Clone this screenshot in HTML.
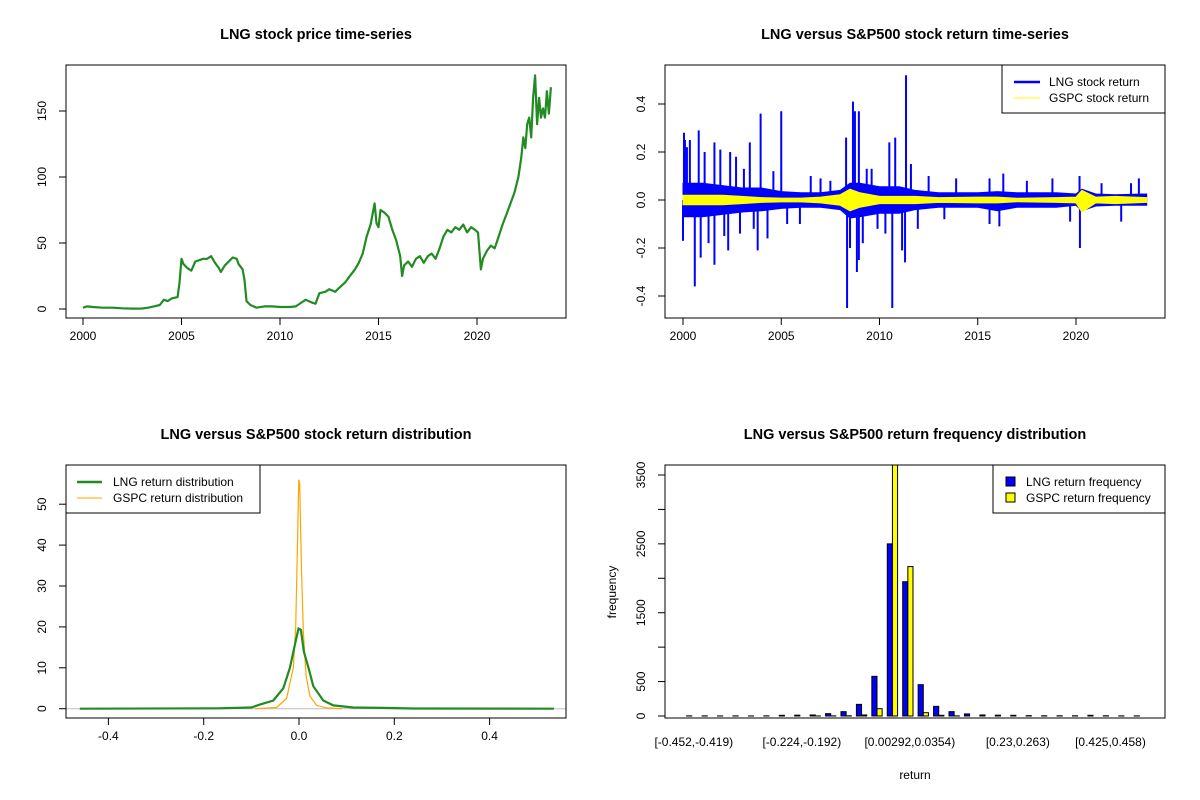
<!DOCTYPE html>
<html><head><meta charset="utf-8">
<style>
html,body{margin:0;padding:0;background:#fff;}
svg{display:block;font-family:"Liberation Sans",Arial,sans-serif;}
</style></head>
<body>
<svg id="chart" width="1200" height="800" viewBox="0 0 1200 800" xmlns="http://www.w3.org/2000/svg">
<rect x="0" y="0" width="1200" height="800" fill="#fff"/>
</svg>
<script>
// ---------- Panel 1: LNG price ----------
const priceYears = [2000.0,2000.2,2000.5,2001.0,2001.5,2002.0,2002.5,2003.0,2003.3,2003.6,2003.9,2004.1,2004.3,2004.5,2004.8,2004.9,2005.0,2005.1,2005.3,2005.5,2005.7,2005.9,2006.1,2006.3,2006.5,2006.7,2006.9,2007.0,2007.2,2007.4,2007.6,2007.8,2007.9,2008.1,2008.2,2008.3,2008.5,2008.8,2009.2,2009.6,2010.0,2010.5,2010.8,2011.1,2011.3,2011.6,2011.8,2012.0,2012.3,2012.5,2012.8,2013.0,2013.3,2013.5,2013.8,2014.0,2014.2,2014.4,2014.6,2014.7,2014.8,2014.9,2015.0,2015.1,2015.3,2015.5,2015.7,2015.9,2016.1,2016.2,2016.3,2016.5,2016.7,2016.9,2017.1,2017.3,2017.5,2017.7,2017.9,2018.1,2018.3,2018.5,2018.7,2018.9,2019.1,2019.3,2019.5,2019.7,2019.9,2020.05,2020.2,2020.3,2020.5,2020.7,2020.9,2021.1,2021.3,2021.5,2021.7,2021.9,2022.1,2022.25,2022.35,2022.45,2022.55,2022.65,2022.75,2022.85,2022.95,2023.05,2023.15,2023.25,2023.35,2023.45,2023.55,2023.65,2023.75];
const priceVals = [1,2,1.5,1,1,0.5,0.3,0.4,1,2,3,7,6,8,9,20,38,34,31,29,36,37,38,38,40,35,31,28,33,36,39,38,34,30,22,6,3,1,2,2,1.5,1.5,2,5,7,5,4,12,13,15,13,16,20,24,30,35,42,55,64,72,80,65,62,75,73,70,60,52,40,25,33,36,32,38,40,35,40,42,38,46,55,60,58,62,60,64,58,62,60,58,30,38,44,48,46,55,64,72,80,88,100,115,130,122,140,145,130,160,177,140,160,145,152,145,165,148,168];

// ---------- Panel 2: returns ----------
const bandYears = [2000.0,2001.0,2002.0,2003.0,2004.0,2005.0,2006.0,2007.0,2008.0,2008.5,2009.0,2010.0,2011.0,2011.8,2013.0,2015.0,2016.0,2017.0,2019.0,2020.0,2020.3,2021.0,2022.0,2023.6];
const lngHi = [0.07,0.07,0.06,0.05,0.05,0.035,0.03,0.03,0.04,0.07,0.07,0.055,0.055,0.04,0.03,0.03,0.035,0.03,0.03,0.025,0.045,0.025,0.022,0.025];
const lngLo = [-0.07,-0.07,-0.06,-0.05,-0.045,-0.035,-0.03,-0.03,-0.04,-0.075,-0.07,-0.055,-0.055,-0.04,-0.03,-0.03,-0.045,-0.03,-0.03,-0.022,-0.045,-0.025,-0.022,-0.022];
const gspcHi = [0.02,0.02,0.02,0.015,0.01,0.008,0.008,0.012,0.022,0.045,0.03,0.015,0.015,0.015,0.01,0.012,0.012,0.007,0.01,0.012,0.04,0.012,0.015,0.01];
const gspcLo = [-0.02,-0.02,-0.02,-0.015,-0.01,-0.008,-0.008,-0.012,-0.022,-0.045,-0.03,-0.015,-0.015,-0.015,-0.01,-0.012,-0.012,-0.007,-0.01,-0.012,-0.05,-0.012,-0.015,-0.01];
const spikeYears = [2000.05,2000.1,2000.0,2000.2,2000.35,2000.6,2000.8,2000.9,2001.1,2001.3,2001.6,2001.6,2001.9,2002.1,2002.3,2002.4,2002.7,2002.9,2003.1,2003.4,2003.6,2003.8,2003.95,2004.3,2004.6,2005.0,2005.3,2005.95,2006.5,2007.0,2007.5,2008.3,2008.35,2008.5,2008.65,2008.75,2008.85,2008.95,2008.95,2009.15,2009.35,2009.6,2009.9,2010.3,2010.5,2010.65,2010.8,2011.15,2011.3,2011.35,2011.6,2011.95,2012.5,2013.3,2013.9,2015.6,2015.6,2016.1,2016.3,2017.5,2018.8,2019.7,2020.18,2020.2,2021.3,2022.3,2022.8,2023.2];
const spikeVals = [0.28,0.25,-0.17,0.22,0.25,-0.36,0.29,-0.24,0.2,-0.18,0.24,-0.27,0.21,-0.15,-0.21,0.20,0.18,-0.14,0.13,0.24,-0.12,-0.21,0.36,-0.16,0.12,0.37,-0.10,-0.10,0.1,0.09,0.08,0.26,-0.45,-0.2,0.41,0.37,-0.30,0.37,-0.25,-0.18,0.13,0.13,-0.12,-0.14,0.24,-0.45,0.26,-0.21,-0.26,0.52,0.15,-0.12,0.1,-0.08,0.09,0.09,-0.10,-0.11,0.11,0.08,0.09,-0.09,0.10,-0.20,0.07,-0.09,0.07,0.09];

// ---------- Panel 3: densities ----------
const lngDensX = [-0.46,-0.17,-0.1,-0.082,-0.054,-0.033,-0.019,-0.008,-0.001,0.004,0.01,0.02,0.03,0.051,0.072,0.114,0.177,0.24,0.535];
const lngDensY = [0,0.1,0.3,1,2,5,10,16,19.6,19.3,14,10,5.5,2,0.8,0.3,0.2,0.05,0];
const gspcDensX = [-0.092,-0.047,-0.026,-0.012,-0.007,-0.0035,-0.0005,0.0015,0.005,0.009,0.015,0.023,0.037,0.058,0.09];
const gspcDensY = [0,0.3,2.5,10,20,38,56,55,35,19,8,3,0.8,0.2,0];
const densXTicks = [-0.4,-0.2,0.0,0.2,0.4];
const densXTickLabels = ["-0.4","-0.2","0.0","0.2","0.4"];
const densYTicks = [0,10,20,30,40,50];

// ---------- Panel 4: histogram ----------
const lngFreq = [2,2,1,2,1,2,10,12,15,34,63,169,576,2500,1950,455,140,63,30,15,12,10,5,3,3,3,10,3,2,2];
const gspcFreq = [0,0,0,0,0,0,0,0,1,2,3,15,106,3700,2170,48,10,2,0,0,0,0,0,0,0,0,0,0,0,0];
const binLabelIdx = [0,7,14,21,27];
const binLabels = ["[-0.452,-0.419)","[-0.224,-0.192)","[0.00292,0.0354)","[0.23,0.263)","[0.425,0.458)"];
const freqTicks = [0,500,1000,1500,2000,2500,3000,3500];
const freqLabels = ["0","500","","1500","","2500","","3500"];

const yearTicks = [2000,2005,2010,2015,2020];
const priceTicks = [0,50,100,150];
const retTicks = [-0.4,-0.2,0.0,0.2,0.4];
const retTickLabels = ["-0.4","-0.2","0.0","0.2","0.4"];

const NS = "http://www.w3.org/2000/svg";
const svg = document.getElementById('chart');
function mk(tag, attrs, parent){const e=document.createElementNS(NS,tag);for(const k in attrs)e.setAttribute(k,attrs[k]);(parent||svg).appendChild(e);return e;}
function txt(s,x,y,opts,parent){const t=mk('text',Object.assign({x:x,y:y,'font-size':12,'text-anchor':'middle',fill:'#000'},opts||{}),parent);t.textContent=s;return t;}
function lin(d0,d1,r0,r1){return v=>r0+(v-d0)*(r1-r0)/(d1-d0);}

function panel(name,x0,y0,x1,y1,title){
  const g=mk('g',{});
  
  
  const t=txt(title,(x0+x1)/2,y0-26,{'font-size':14.5,'font-weight':'bold'},g);
  
  
  const clip=mk('clipPath',{id:'clip-'+name},g);
  mk('rect',{x:x0,y:y0,width:x1-x0,height:y1-y0},clip);
  const plot=mk('g',{'clip-path':'url(#clip-'+name+')'},g);
  
  
  return {g,plot,x0,y0,x1,y1};
}
function frame(p){const r=mk('rect',{x:p.x0,y:p.y0,width:p.x1-p.x0,height:p.y1-p.y0,fill:'none',stroke:'#000','stroke-width':1},p.g);
  
  }
function xAxis(p,ticks,labels,sx){
  const ax=mk('g',{},p.g);
  
  
  mk('line',{x1:sx(ticks[0]),x2:sx(ticks[ticks.length-1]),y1:p.y1,y2:p.y1,stroke:'#000'},ax);
  ticks.forEach((v,i)=>{const x=sx(v);mk('line',{x1:x,x2:x,y1:p.y1,y2:p.y1+7,stroke:'#000'},ax);
    const t=txt(labels[i],x,p.y1+22,{},ax);
    
    });
}
function yAxis(p,ticks,labels,sy){
  const ax=mk('g',{},p.g);
  
  
  mk('line',{x1:p.x0,x2:p.x0,y1:sy(ticks[0]),y2:sy(ticks[ticks.length-1]),stroke:'#000'},ax);
  ticks.forEach((v,i)=>{const y=sy(v);mk('line',{x1:p.x0-7,x2:p.x0,y1:y,y2:y,stroke:'#000'},ax);
    if(labels[i]!==''){const tx=p.x0-20;const t=txt(labels[i],tx,y,{transform:'rotate(-90 '+tx+' '+y+')'},ax);
    
    }});
}
function pathFrom(xs,ys,sx,sy){return xs.map((v,i)=>(i?'L':'M')+sx(v).toFixed(1)+' '+sy(ys[i]).toFixed(1)).join(' ');}

// ===== Panel 1 =====
(function(){
  const p=panel('price-panel',66,65,566,318,'LNG stock price time-series');
  const sx=lin(2000,2020,83,477), sy=lin(0,150,309,111);
  const l=mk('path',{d:pathFrom(priceYears,priceVals,sx,sy),fill:'none',stroke:'#228B22','stroke-width':2.2,'stroke-linejoin':'round'},p.plot);
  
  
  frame(p);
  xAxis(p,yearTicks,yearTicks.map(String),sx);
  yAxis(p,priceTicks,priceTicks.map(String),sy);
})();

// ===== Panel 2 =====
(function(){
  const p=panel('return-panel',665,65,1165,318,'LNG versus S&P500 stock return time-series');
  const sx=lin(2000,2020,683,1076), sy=lin(0,0.4,200,104);
  function band(hi,lo,color,name){
    const d=pathFrom(bandYears,hi,sx,sy)+' '+bandYears.slice().reverse().map((v,i)=>'L'+sx(v).toFixed(1)+' '+sy(lo[lo.length-1-i]).toFixed(1)).join(' ')+' Z';
    const e=mk('path',{d:d,fill:color,stroke:color,'stroke-width':1},p.plot);
    
    
  }
  band(lngHi,lngLo,'#0000ff','lng-return-band');
  const sg=mk('g',{},p.plot);
  
  
  spikeYears.forEach((yr,i)=>{const x=sx(yr);
    const s=mk('line',{x1:x,x2:x,y1:sy(0),y2:sy(spikeVals[i]),stroke:'#0000ff','stroke-width':2},sg);
    
    });
  band(gspcHi,gspcLo,'#ffff00','gspc-return-band');
  frame(p);
  xAxis(p,yearTicks,yearTicks.map(String),sx);
  yAxis(p,retTicks,retTickLabels,sy);
  const lg=mk('g',{},p.g);
  
  
  mk('rect',{x:1002,y:65,width:163,height:48,fill:'#fff',stroke:'#000'},lg);
  mk('line',{x1:1014,x2:1040,y1:82,y2:82,stroke:'#0000ff','stroke-width':2.5},lg);
  mk('line',{x1:1014,x2:1040,y1:98,y2:98,stroke:'#ffff00','stroke-width':1},lg);
  const a=txt('LNG stock return',1049,86,{'text-anchor':'start'},lg);
  
  
  const b=txt('GSPC stock return',1049,102,{'text-anchor':'start'},lg);
  
  
})();

// ===== Panel 3 =====
(function(){
  const p=panel('density-panel',66,465,566,718,'LNG versus S&P500 stock return distribution');
  const sx=lin(0,0.2,299,394.3), sy=lin(0,10,708.7,667.8);
  mk('line',{x1:p.x0,x2:p.x1,y1:sy(0),y2:sy(0),stroke:'#bebebe','stroke-width':1},p.plot);
  const o=mk('path',{d:pathFrom(gspcDensX,gspcDensY,sx,sy),fill:'none',stroke:'#FFA500','stroke-width':1.2},p.plot);
  
  
  const gl=mk('path',{d:pathFrom(lngDensX,lngDensY,sx,sy),fill:'none',stroke:'#228B22','stroke-width':2.2},p.plot);
  
  
  frame(p);
  xAxis(p,densXTicks,densXTickLabels,sx);
  yAxis(p,densYTicks,densYTicks.map(String),sy);
  const lg=mk('g',{},p.g);
  
  
  mk('rect',{x:66,y:465,width:194,height:48,fill:'#fff',stroke:'#000'},lg);
  mk('line',{x1:77,x2:102,y1:482,y2:482,stroke:'#228B22','stroke-width':2.5},lg);
  mk('line',{x1:77,x2:102,y1:498,y2:498,stroke:'#FFA500','stroke-width':1},lg);
  const a=txt('LNG return distribution',113,486,{'text-anchor':'start'},lg);
  
  
  const b=txt('GSPC return distribution',113,502,{'text-anchor':'start'},lg);
  
  
})();

// ===== Panel 4 =====
(function(){
  const p=panel('histogram-panel',665,465,1165,718,'LNG versus S&P500 return frequency distribution');
  const n=lngFreq.length, units=3*n, ext=units*0.04;
  const sx=lin(-ext,units+ext,665,1165), sy=lin(0,3500,716,475);
  for(let i=0;i<n;i++){
    const bx=sx(3*i+1)-2, bw=sx(3*i+2)-sx(3*i+1);
    const r1=mk('rect',{x:bx,y:sy(lngFreq[i]),width:bw,height:sy(0)-sy(lngFreq[i]),fill:'#0000ff',stroke:'#000','stroke-width':1},p.plot);
    
    
    const r2=mk('rect',{x:bx+bw,y:sy(gspcFreq[i]),width:bw,height:sy(0)-sy(gspcFreq[i]),fill:'#ffff00',stroke:'#000','stroke-width':1},p.plot);
    
    
  }
  frame(p);
  binLabelIdx.forEach((idx,k)=>{const t=txt(binLabels[k],sx(3*idx+2),746,{},p.g);
    
    });
  yAxis(p,freqTicks,freqLabels,sy);
  const xt=txt('return',915,779,{'font-size':12},p.g);
  
  
  const yt=txt('frequency',616,592,{transform:'rotate(-90 616 592)'},p.g);
  
  
  const lg=mk('g',{},p.g);
  
  
  mk('rect',{x:993,y:465,width:172,height:48,fill:'#fff',stroke:'#000'},lg);
  mk('rect',{x:1006,y:477,width:9,height:9,fill:'#0000ff',stroke:'#000'},lg);
  mk('rect',{x:1006,y:493,width:9,height:9,fill:'#ffff00',stroke:'#000'},lg);
  const a=txt('LNG return frequency',1026,486,{'text-anchor':'start'},lg);
  
  
  const b=txt('GSPC return frequency',1026,502,{'text-anchor':'start'},lg);
  
  
})();
</script>
</body></html>
